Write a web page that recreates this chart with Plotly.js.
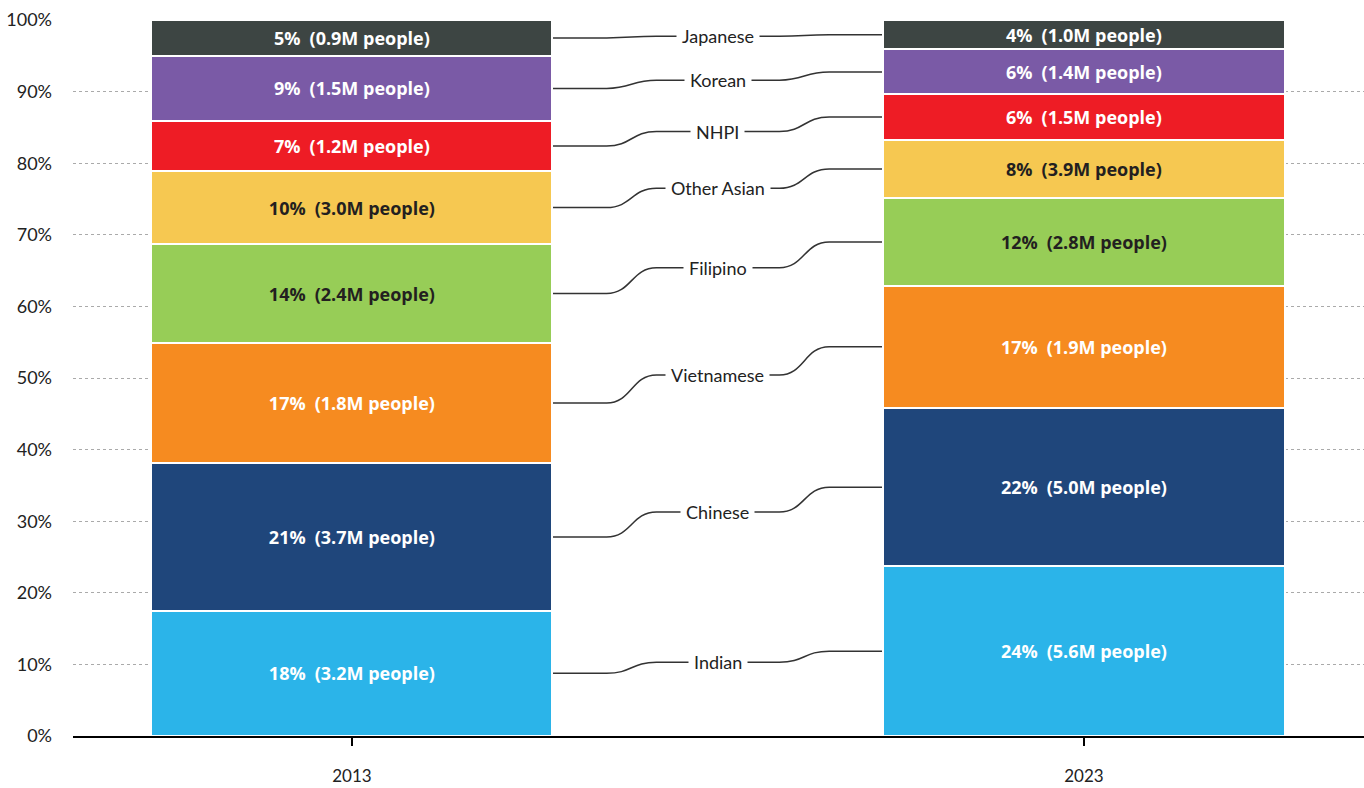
<!DOCTYPE html>
<html>
<head>
<meta charset="utf-8">
<script src="https://cdn.plot.ly/plotly-3.0.1.min.js"></script>
<style>html,body{margin:0;padding:0;background:#fff}#chart{width:1364px;height:788px}</style>
</head>
<body>
<div id="chart"></div>
<script>
// ---- data ----
var years = ['2013', '2023'];
var groups = ['Indian', 'Chinese', 'Vietnamese', 'Filipino', 'Other Asian', 'NHPI', 'Korean', 'Japanese'];
var share2013 = [17.5, 20.6, 16.8, 13.8, 10.2, 7.0, 9.1, 5.0];
var share2023 = [23.7, 22.1, 17.1, 12.2, 8.2, 6.3, 6.3, 4.1];
var labels2013 = ['18%\u2002(3.2M people)', '21%\u2002(3.7M people)', '17%\u2002(1.8M people)', '14%\u2002(2.4M people)',
                  '10%\u2002(3.0M people)', '7%\u2002(1.2M people)', '9%\u2002(1.5M people)', '5%\u2002(0.9M people)'];
var labels2023 = ['24%\u2002(5.6M people)', '22%\u2002(5.0M people)', '17%\u2002(1.9M people)', '12%\u2002(2.8M people)',
                  '8%\u2002(3.9M people)', '6%\u2002(1.5M people)', '6%\u2002(1.4M people)', '4%\u2002(1.0M people)'];
var colors = ['#2bb4e9', '#1f467b', '#f68b20', '#97cd57', '#f6c851', '#ee1c25', '#7a5aa6', '#3d4543'];
var textColors = ['#ffffff', '#ffffff', '#ffffff', '#231f20', '#231f20', '#ffffff', '#ffffff', '#ffffff'];
var yTicks = [0, 10, 20, 30, 40, 50, 60, 70, 80, 90, 100];
var yTickText = ['0%', '10%', '20%', '30%', '40%', '50%', '60%', '70%', '80%', '90%', '100%'];

// ---- layout constants ----
var xPos = [0, 1];
var barW = 0.548;
var FONT = 'Lato, "Open Sans", sans-serif';
var BOLDFONT = '"Open Sans", Lato, sans-serif';

var traces = groups.map(function (g, i) {
  return {
    type: 'bar',
    name: g,
    x: xPos,
    y: [share2013[i], share2023[i]],
    width: barW,
    text: [labels2013[i], labels2023[i]],
    textposition: 'inside',
    insidetextanchor: 'middle',
    constraintext: 'none',
    textangle: 0,
    textfont: {family: BOLDFONT, size: 18, color: textColors[i], weight: 700},
    marker: {color: colors[i], line: {color: '#ffffff', width: 2}},
    hoverinfo: 'skip'
  };
});

// connectors and labels
var e1 = xPos[0] + barW / 2, e2 = xPos[1] - barW / 2;
var stub = 0.074, curve = 0.068;
var shapes = [{
  type: 'rect', xref: 'x', yref: 'y', x0: e1, x1: e2, y0: 0.3, y1: 100,
  fillcolor: '#ffffff', line: {width: 0}, layer: 'between'
}];
var annotations = [];
var c1 = 0, c2 = 0;
groups.forEach(function (g, i) {
  var m1 = c1 + share2013[i] / 2, m2 = c2 + share2023[i] / 2;
  c1 += share2013[i]; c2 += share2023[i];
  var yl = (m1 + m2) / 2;
  var a = e1 + stub, b = a + curve, ma = (a + b) / 2;
  var d = e2 - stub, c = d - curve, md = (c + d) / 2;
  var path = 'M ' + e1 + ' ' + m1 + ' L ' + a + ' ' + m1 +
    ' C ' + ma + ' ' + m1 + ', ' + ma + ' ' + yl + ', ' + b + ' ' + yl +
    ' L ' + c + ' ' + yl +
    ' C ' + md + ' ' + yl + ', ' + md + ' ' + m2 + ', ' + d + ' ' + m2 +
    ' L ' + e2 + ' ' + m2;
  shapes.push({type: 'path', xref: 'x', yref: 'y', path: path, line: {color: '#333333', width: 1.5}, layer: 'between'});
  annotations.push({
    x: 0.5, y: yl, xref: 'x', yref: 'y', text: g, showarrow: false,
    font: {family: FONT, size: 18, color: '#222222'},
    bgcolor: '#ffffff', borderpad: 5
  });
});

var layout = {
  width: 1364, height: 788,
  margin: {l: 73, r: 0, t: 20, b: 52},
  paper_bgcolor: '#ffffff', plot_bgcolor: '#ffffff',
  barmode: 'stack',
  showlegend: false,
  font: {family: FONT, size: 17, color: '#222222'},
  xaxis: {
    range: [-0.381, 1.3826],
    tickvals: xPos, ticktext: years,
    ticks: 'outside', ticklen: 8, tickwidth: 1.5, tickcolor: '#000000',
    showline: true, linecolor: '#000000', linewidth: 1.5,
    showgrid: false, zeroline: false,
    ticklabelstandoff: 16,
    tickfont: {family: FONT, size: 17, color: '#222222'},
    fixedrange: true
  },
  yaxis: {
    range: [0, 100],
    tickmode: 'array', tickvals: yTicks, ticktext: yTickText,
    showgrid: true, gridcolor: '#aaaaaa', griddash: 'dot', gridwidth: 1,
    zeroline: false, showline: false, ticks: '',
    ticklabelstandoff: 20,
    tickfont: {family: FONT, size: 18, color: '#222222'},
    fixedrange: true
  },
  shapes: shapes,
  annotations: annotations,
  hovermode: false
};

Plotly.newPlot('chart', traces, layout, {displayModeBar: false, staticPlot: true});
</script>
</body>
</html>
